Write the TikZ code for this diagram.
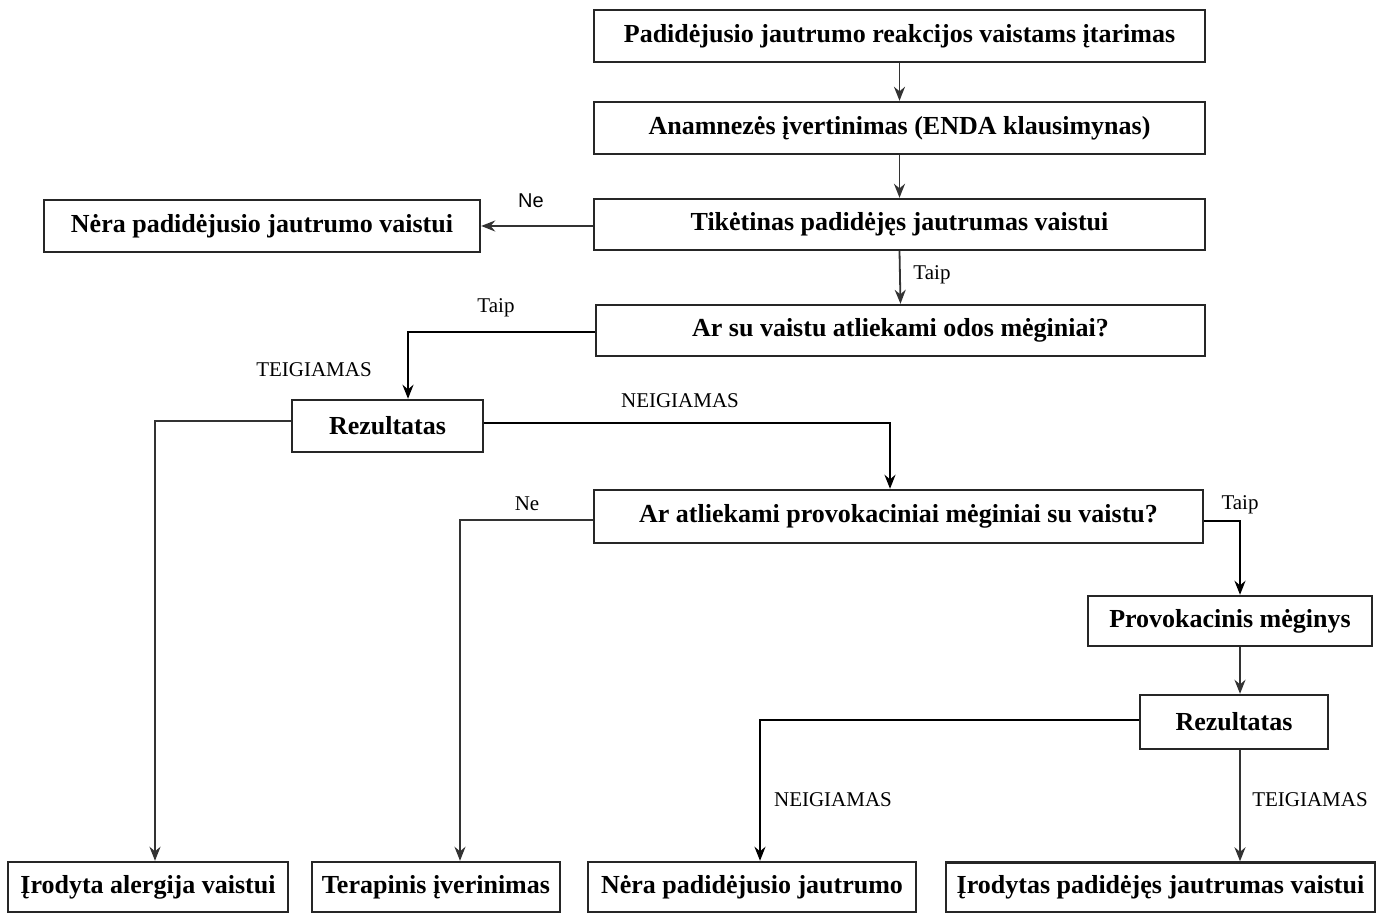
\documentclass[tikz,border=0pt]{standalone}
\usepackage{fontspec}
\setmainfont{Liberation Serif}
\setsansfont{Liberation Sans}
\usetikzlibrary{arrows.meta}
\begin{document}
\begin{tikzpicture}[x=0.5pt,y=-0.5pt,
  box/.style={draw=black!85,line width=1.2pt,rectangle,inner sep=0pt,font=\bfseries\fontsize{13}{15}\selectfont},
  thin/.style={draw=black!80,line width=0.9pt,-{Stealth[length=7pt,width=5.5pt]}},
  thick/.style={draw=black,line width=1.4pt,-{Stealth[length=7pt,width=5.5pt]}},
  lab/.style={font=\fontsize{10.5}{12}\selectfont,inner sep=0pt},
  slab/.style={font=\sffamily\fontsize{10}{12}\selectfont,inner sep=0pt}]
\useasboundingbox (0,0) rectangle (1377,913);
% boxes
\node[box,minimum width=305.5pt,minimum height=26pt] (b1) at (899.5,36) {Padidėjusio jautrumo reakcijos vaistams įtarimas};
\node[box,minimum width=305.5pt,minimum height=26pt] (b2) at (899.5,128) {Anamnezės įvertinimas (ENDA klausimynas)};
\node[box,minimum width=305.5pt,minimum height=25.5pt] (b3) at (899.5,224.5) {Tikėtinas padidėjęs jautrumas vaistui};
\node[box,minimum width=218pt,minimum height=26pt] (no1) at (262,226) {Nėra padidėjusio jautrumo vaistui};
\node[box,minimum width=304.5pt,minimum height=25.5pt] (b4) at (900.5,330.5) {Ar su vaistu atliekami odos mėginiai?};
\node[box,minimum width=95.5pt,minimum height=26pt] (r1) at (387.5,426) {Rezultatas};
\node[box,minimum width=304.5pt,minimum height=26.5pt] (b5) at (898.5,516.5) {Ar atliekami provokaciniai mėginiai su vaistu?};
\node[box,minimum width=142pt,minimum height=25pt] (pm) at (1230,621) {Provokacinis mėginys};
\node[box,minimum width=94pt,minimum height=27pt] (r2) at (1234,722) {Rezultatas};
\node[box,minimum width=140pt,minimum height=25pt] (e1) at (148,887) {Įrodyta alergija vaistui};
\node[box,minimum width=124pt,minimum height=25pt] (e2) at (436,887) {Terapinis įverinimas};
\node[box,minimum width=164pt,minimum height=25pt] (e3) at (752,887) {Nėra padidėjusio jautrumo};
\node[box,minimum width=214.5pt,minimum height=25pt] (e4) at (1160.5,887.5) {Įrodytas padidėjęs jautrumas vaistui};
% coordinates
\coordinate (c1) at (408,332);
\coordinate (c2) at (155,421);
\coordinate (c3) at (890,423);
\coordinate (c4) at (460,520);
\coordinate (c5) at (1240,521);
\coordinate (c6) at (760,720);
% connectors
\draw[thin] (b1.south) -- (b2.north);
\draw[thin] (b2.south) -- (b3.north);
\draw[thin] (b3.west |- no1) -- (no1.east);
\draw[thin] (b3.south) -- (b4.north);
\draw[thick] (b4.west |- c1) -- (c1) -- (c1 |- r1.north);
\draw[thin] (r1.west |- c2) -- (c2) -- (c2 |- e1.north);
\draw[thick] (r1.east |- c3) -- (c3) -- (c3 |- b5.north);
\draw[thin] (b5.west |- c4) -- (c4) -- (c4 |- e2.north);
\draw[thick] (b5.east |- c5) -- (c5) -- (c5 |- pm.north);
\draw[thin] (c5 |- pm.south) -- (c5 |- r2.north);
\draw[thick] (r2.west |- c6) -- (c6) -- (c6 |- e3.north);
\draw[thin] (c5 |- r2.south) -- (c5 |- e4.north);
% labels
\node[slab] (l1) at (531,201) {Ne};
\node[lab] (l2) at (932,275) {Taip};
\node[lab] (l3) at (496,308) {Taip};
\node[lab] (l4) at (314,370) {TEIGIAMAS};
\node[lab] (l5) at (680,401) {NEIGIAMAS};
\node[lab] (l6) at (527,504) {Ne};
\node[lab] (l7) at (1240,505) {Taip};
\node[lab] (l8) at (833,800) {NEIGIAMAS};
\node[lab] (l9) at (1310,800) {TEIGIAMAS};
\end{tikzpicture}
\end{document}
